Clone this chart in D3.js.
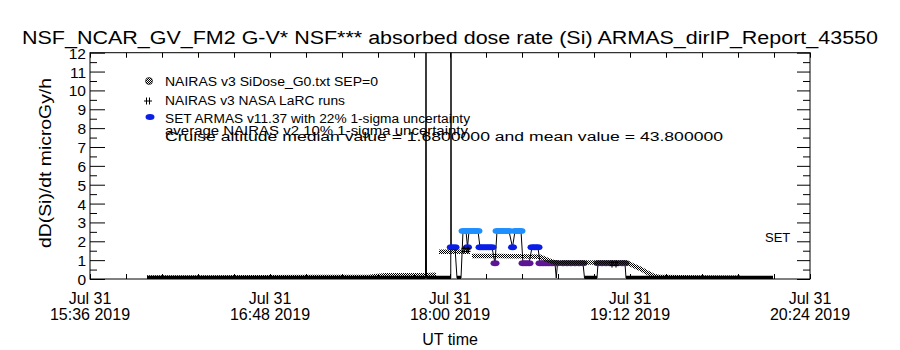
<!DOCTYPE html>
<html>
<head>
<meta charset="utf-8">
<script src="https://cdn.jsdelivr.net/npm/d3@7"></script>
<style>
  body { margin: 0; background: #fff; }
  text { font-family: "Liberation Sans", Arial, sans-serif; fill: #000; }
</style>
</head>
<body>
<svg id="chart" width="900" height="350"></svg>
<script>
// ---- data ----
const flightDay = "2019-07-31";
const xTickTimes = ["15:36:00", "16:48:00", "18:00:00", "19:12:00", "20:24:00"];
const yMajorTicks = [0, 1, 2, 3, 4, 5, 6, 7, 8, 9, 10, 11, 12];

// NAIRAS v3 SiDose (null = break in the drawn band)
const nairasTime = ["15:58:48", "16:20:00", "16:44:00", "17:08:00", "17:28:00", "17:34:00", "17:49:36", "17:54:24", null,
  "17:55:36", "18:08:00", null,
  "18:08:48", "18:20:00", "18:28:00", "18:36:00", "18:39:12", "18:42:00", "19:10:48", "19:13:12", "19:16:00",
  "19:18:48", "19:21:12", "19:24:00", "19:40:00", "19:56:00"];
const nairasValue = [0.08, 0.08, 0.09, 0.1, 0.12, 0.2, 0.2, 0.22, null,
  1.45, 1.45, null,
  1.22, 1.22, 1.2, 1.18, 1.0, 0.87, 0.87, 0.72, 0.55,
  0.35, 0.18, 0.1, 0.08, 0.07];

// NAIRAS v3 NASA LaRC runs
const larcTime = ["18:06:24", "19:05:36"];
const larcValue = [1.54, 0.8];

// SET ARMAS v11.37
const setTime = ["15:58:48", "16:08:00", "16:20:00", "16:36:00", "16:52:00", "17:08:00", "17:24:00", "17:40:00",
  "17:50:12", "17:50:24", "17:50:36", "17:56:00", "18:00:18", "18:00:24", "18:00:30", "18:02:00", "18:02:48",
  "18:04:24", "18:05:12", "18:06:24", "18:07:00", "18:07:36", "18:08:48", "18:10:00", "18:11:12", "18:12:00",
  "18:13:12", "18:14:24", "18:15:36", "18:16:48", "18:18:00", "18:18:48", "18:20:00", "18:21:12", "18:22:24",
  "18:23:36", "18:25:00", "18:26:00", "18:27:12", "18:28:24", "18:29:12", "18:30:24", "18:31:36", "18:32:48",
  "18:34:00", "18:35:12", "18:36:00", "18:37:12", "18:38:24", "18:39:36", "18:40:48", "18:42:00", "18:42:30",
  "18:43:00", "18:45:12", "18:46:48", "18:48:24", "18:50:00", "18:51:36", "18:53:12", "18:53:48", "18:56:00",
  "18:58:48", "18:59:12", "19:00:48", "19:02:24", "19:04:00", "19:05:36", "19:07:12", "19:08:48", "19:10:00",
  "19:10:24", "19:16:00", "19:32:00", "19:48:00", "20:04:00", "20:09:12"];
const setValue = [0.04, 0.05, 0.04, 0.05, 0.04, 0.05, 0.05, 0.06,
  0.05, 14, 0.05, 0.06, 0.05, 14, 1.68, 1.68, 0.05,
  0.05, 2.54, 2.54, 1.68, 2.54, 2.54, 2.54, 2.54, 1.68,
  1.68, 1.68, 1.68, 1.68, 0.83, 2.54, 2.54, 2.54, 2.54,
  2.54, 1.68, 2.54, 2.54, 2.54, 0.83, 0.83, 0.83, 1.68,
  1.68, 1.68, 0.83, 0.83, 0.83, 0.83, 0.83, 0.83, 0.05,
  0.83, 0.83, 0.83, 0.83, 0.83, 0.83, 0.83, 0.05, 0.05,
  0.05, 0.83, 0.83, 0.83, 0.83, 0.83, 0.83, 0.83, 0.83,
  0.05, 0.05, 0.05, 0.05, 0.05, 0.05];

const legendLines = [
  "NAIRAS v3 SiDose_G0.txt SEP=0",
  "NAIRAS v3 NASA LaRC runs",
  "SET ARMAS v11.37 with 22% 1-sigma uncertainty",
  "average NAIRAS v2 10% 1-sigma uncertainty",
  "Cruise altitude median value = 1.6800000 and mean value = 43.800000"
];

// ---- layout ----
const parse = d3.utcParse("%Y-%m-%d %H:%M:%S");
const toDate = s => s == null ? null : parse(flightDay + " " + s);
const plotL = 90, plotR = 810, plotT = 52.7, plotB = 279;

const svg = d3.select("#chart");

const x = d3.scaleUtc()
  .domain([toDate(xTickTimes[0]), toDate(xTickTimes[xTickTimes.length - 1])])
  .range([plotL, plotR]);
const y = d3.scaleLinear().domain([0, 12]).range([plotB, plotT]);

const defs = svg.append("defs");
defs.append("clipPath").attr("id", "plot")
  .append("rect").attr("x", plotL).attr("y", plotT).attr("width", plotR - plotL).attr("height", plotB - plotT);
const hatch = defs.append("pattern").attr("id", "hatch")
  .attr("patternUnits", "userSpaceOnUse").attr("width", 2).attr("height", 2);
hatch.append("rect").attr("x", 0).attr("y", 0).attr("width", 1).attr("height", 1).attr("fill", "#000");
hatch.append("rect").attr("x", 1).attr("y", 1).attr("width", 1).attr("height", 1).attr("fill", "#000");

// title
svg.append("text")
  .attr("x", 22).attr("y", 44)
  .attr("font-size", 18)
  .attr("textLength", 856).attr("lengthAdjust", "spacingAndGlyphs")
  .text("NSF_NCAR_GV_FM2 G-V* NSF*** absorbed dose rate (Si) ARMAS_dirIP_Report_43550");

// ---- ticks ----
const t0 = x.domain()[0].getTime();
const xMinor = d3.range(0, 21).map(i => new Date(t0 + i * 14.4 * 60000));
const yMinor = yMajorTicks.slice(0, -1).map(v => v + 0.5);

function hideDomain(g) { g.select(".domain").remove(); }

svg.append("g").attr("transform", `translate(0,${plotB})`)
  .call(d3.axisBottom(x).tickValues(xMinor).tickSize(-5).tickFormat(""))
  .call(hideDomain);
svg.append("g").attr("transform", `translate(0,${plotT})`)
  .call(d3.axisTop(x).tickValues(xMinor).tickSize(-5).tickFormat(""))
  .call(hideDomain);

svg.append("g").attr("transform", `translate(${plotL},0)`)
  .call(d3.axisLeft(y).tickValues(yMajorTicks).tickSize(-15).tickFormat(""))
  .call(hideDomain);
svg.append("g").attr("transform", `translate(${plotL},0)`)
  .call(d3.axisLeft(y).tickValues(yMinor).tickSize(-7).tickFormat(""))
  .call(hideDomain);
svg.append("g").attr("transform", `translate(${plotR},0)`)
  .call(d3.axisRight(y).tickValues(yMajorTicks).tickSize(-13).tickFormat(""))
  .call(hideDomain);
svg.append("g").attr("transform", `translate(${plotR},0)`)
  .call(d3.axisRight(y).tickValues(yMinor).tickSize(-7).tickFormat(""))
  .call(hideDomain);
svg.selectAll(".tick line").attr("stroke", "#000").attr("stroke-width", 1);

// y tick labels
svg.append("g").selectAll("text").data(yMajorTicks).join("text")
  .attr("x", 86).attr("y", d => y(d) + 6)
  .attr("text-anchor", "end").attr("font-size", 15.5)
  .text(d => d);

// x tick labels (two lines)
const fmtDay = d3.utcFormat("%b %d"), fmtTime = d3.utcFormat("%H:%M %Y");
const xl = svg.append("g").selectAll("g").data(xTickTimes.map(toDate)).join("g");
xl.append("text").attr("x", d => x(d)).attr("y", 304).attr("text-anchor", "middle")
  .attr("font-size", 16).text(d => fmtDay(d));
xl.append("text").attr("x", d => x(d)).attr("y", 320).attr("text-anchor", "middle")
  .attr("font-size", 16).text(d => fmtTime(d));

svg.append("text").attr("x", 450).attr("y", 345).attr("text-anchor", "middle")
  .attr("font-size", 16).text("UT time");

svg.append("text")
  .attr("transform", "translate(51,163) rotate(-90)")
  .attr("text-anchor", "middle").attr("font-size", 17)
  .attr("textLength", 170).attr("lengthAdjust", "spacingAndGlyphs")
  .text("dD(Si)/dt microGy/h");

svg.append("text").attr("x", 765).attr("y", 242).attr("font-size", 13).text("SET");

// ---- data ----
const plot = svg.append("g").attr("clip-path", "url(#plot)");

const setPts = setTime.map((t, i) => ({ t: toDate(t), v: setValue[i] }));
const splitT = toDate("18:42:00");
function setColor(d) {
  if (d.v >= 2.2) return "#1e8fff";
  if (d.v >= 1.3) return "#0a1ee8";
  if (d.v >= 0.5) return d.t < splitT ? "#5c1694" : "#4a1e78";
  return null;
}

// SET: connecting line
plot.append("path")
  .datum(setPts)
  .attr("fill", "none").attr("stroke", "#000").attr("stroke-width", 1)
  .attr("d", d3.line().x(d => x(d.t)).y(d => y(d.v)));
// SET: thick zero baseline look
plot.append("path")
  .datum(setPts)
  .attr("fill", "none").attr("stroke", "#000").attr("stroke-width", 3.5)
  .attr("d", d3.line().defined(d => d.v < 0.5).x(d => x(d.t)).y(d => y(0) - 1.5));
// SET: coloured dots
plot.append("g").selectAll("ellipse").data(setPts.filter(d => setColor(d) && d.v < 12)).join("ellipse")
  .attr("cx", d => x(d.t)).attr("cy", d => y(d.v))
  .attr("rx", 4.5).attr("ry", 3)
  .attr("fill", d => setColor(d));

// NAIRAS hatched band
const nairasPts = nairasTime.map((t, i) => ({ t: toDate(t), v: nairasValue[i] }));
plot.append("path")
  .datum(nairasPts)
  .attr("fill", "none").attr("stroke", "url(#hatch)").attr("stroke-width", 4.5)
  .attr("d", d3.line().defined(d => d.v != null).x(d => x(d.t)).y(d => y(d.v)));

// LaRC markers
const hashPath = "M-4.5,-1.5H4.5M-4.5,1.5H4.5M-2,-3.5V3.5M2,-3.5V3.5";
plot.append("g").selectAll("path").data(larcTime.map((t, i) => ({ t: toDate(t), v: larcValue[i] }))).join("path")
  .attr("transform", d => `translate(${x(d.t)},${y(d.v)})`)
  .attr("d", hashPath).attr("stroke", "#000").attr("stroke-width", 1.2).attr("fill", "none");

// frame
svg.append("rect").attr("x", plotL).attr("y", plotT).attr("width", plotR - plotL).attr("height", plotB - plotT)
  .attr("fill", "none").attr("stroke", "#000").attr("stroke-width", 1);

// ---- legend ----
const legendY = [86, 104.5, 123, 135, 140.5];
const legendW = [213, 180, 305, 303, 558];
svg.append("g").selectAll("text").data(legendLines).join("text")
  .attr("x", 165).attr("y", (d, i) => legendY[i])
  .attr("font-size", 12.5)
  .attr("textLength", (d, i) => legendW[i]).attr("lengthAdjust", "spacingAndGlyphs")
  .text(d => d);

svg.append("circle").attr("cx", 149).attr("cy", 81).attr("r", 3.5)
  .attr("fill", "url(#hatch)").attr("stroke", "#000").attr("stroke-width", 0.6);
svg.append("path").attr("transform", "translate(148,101)")
  .attr("d", "M-4,0H4M-1.5,-3.5V3.5M1.5,-3.5V3.5").attr("stroke", "#000").attr("fill", "none");
svg.append("ellipse").attr("cx", 150).attr("cy", 117).attr("rx", 4.5).attr("ry", 3).attr("fill", "#0a1ee8");
</script>
</body>
</html>
